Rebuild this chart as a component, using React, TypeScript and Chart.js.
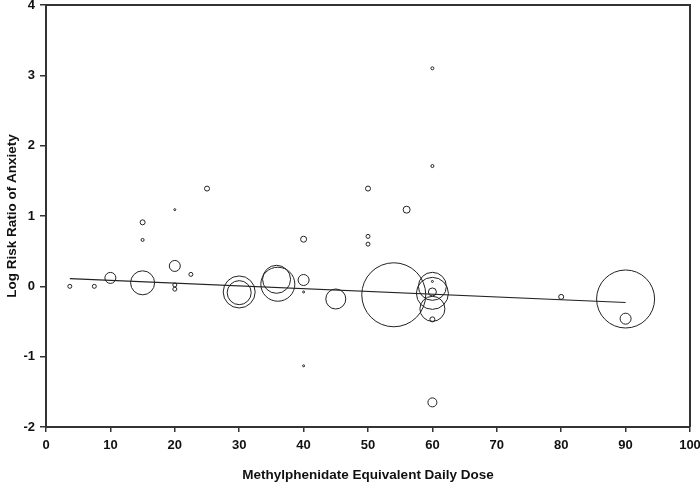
import React, { useEffect, useRef } from "react";
import { Chart, registerables } from "chart.js";

Chart.register(...registerables);

// Study-level data: dose (methylphenidate equivalent), log risk ratio, bubble size (study weight)
const doses = [3.7, 7.5, 10, 15, 15, 15, 20, 20, 20, 20, 22.5, 25, 30, 30, 36, 35.8, 40, 40, 40, 40, 45, 50, 50, 50, 54, 56, 60, 60, 60, 60, 60, 60, 60, 60, 60, 80, 90, 90];
const logRR = [0.0, 0.0, 0.12, 0.05, 0.66, 0.91, 0.29, 0.02, -0.04, 1.09, 0.17, 1.39, -0.08, -0.09, 0.03, 0.1, 0.09, -0.08, 0.67, -1.13, -0.18, 0.71, 0.6, 1.39, -0.12, 1.09, 3.1, 1.71, 0.0, -0.1, -0.32, -0.08, 0.07, -0.47, -1.65, -0.15, -0.18, -0.46];
const weights = [2, 2, 5.5, 12, 1.5, 2.5, 5.5, 2, 2, 1, 2, 2.5, 16, 12, 17, 14, 5.5, 1, 3, 1, 10, 2, 2, 2.5, 32, 3.5, 1.5, 1.5, 14, 16, 12.5, 4, 1, 2.5, 4.5, 2.5, 29, 5.5];

// Meta-regression line endpoints
const regX = [3.7, 90];
const regY = [0.11, -0.23];

const xTicks = [0, 10, 20, 30, 40, 50, 60, 70, 80, 90, 100];
const yTicks = [-2, -1, 0, 1, 2, 3, 4];

const xTitle = "Methylphenidate Equivalent Daily Dose";
const yTitle = "Log Risk Ratio of Anxiety";

const AXIS_COLOR = "#333333";
const FONT = "'Liberation Sans', Arial, sans-serif";

const framePlugin = {
  id: "frame",
  afterDraw(chart: any) {
    const { ctx, chartArea } = chart;
    ctx.save();
    ctx.strokeStyle = AXIS_COLOR;
    ctx.lineWidth = 2;
    ctx.beginPath();
    ctx.moveTo(chartArea.left, chartArea.top);
    ctx.lineTo(chartArea.right, chartArea.top);
    ctx.lineTo(chartArea.right, chartArea.bottom);
    ctx.stroke();
    ctx.restore();
  },
};

export default function App() {
  const ref = useRef<HTMLCanvasElement>(null);

  useEffect(() => {
    if (!ref.current) return;
    const bubbles = doses.map((d, i) => ({ x: d, y: logRR[i], r: weights[i] }));
    const line = regX.map((x, i) => ({ x, y: regY[i] }));
    const chart = new Chart(ref.current, {
      type: "bubble",
      data: {
        datasets: [
          {
            type: "bubble",
            data: bubbles,
            backgroundColor: "rgba(0,0,0,0)",
            borderColor: "#222222",
            borderWidth: 1,
            hoverRadius: 0,
            clip: false,
          } as any,
          {
            type: "line",
            data: line,
            borderColor: "#222222",
            borderWidth: 1.2,
            pointRadius: 0,
            fill: false,
          } as any,
        ],
      },
      options: {
        responsive: false,
        animation: false,
        events: [],
        layout: { autoPadding: false, padding: { left: 0, right: 10, top: 5, bottom: 0 } },
        plugins: {
          legend: { display: false },
          tooltip: { enabled: false },
        },
        scales: {
          x: {
            type: "linear",
            min: 0,
            max: 100,
            afterBuildTicks: (s: any) => {
              s.ticks = xTicks.map((v) => ({ value: v }));
            },
            afterFit: (s: any) => {
              s.height = 57;
              s.paddingLeft = 0;
              s.paddingRight = 0;
            },
            grid: {
              drawOnChartArea: false,
              drawTicks: true,
              tickLength: 5,
              color: AXIS_COLOR,
              lineWidth: 1.5,
            },
            border: { display: true, color: AXIS_COLOR, width: 2 },
            ticks: {
              color: "#111",
              padding: 6,
              maxRotation: 0,
              font: { family: FONT, size: 13, weight: "bold" },
            },
            title: {
              display: true,
              text: xTitle,
              color: "#111",
              padding: { top: 0, bottom: 1 },
              font: { family: FONT, size: 13.5, weight: "bold" },
            },
          },
          y: {
            type: "linear",
            min: -2,
            max: 4,
            afterBuildTicks: (s: any) => {
              s.ticks = yTicks.map((v) => ({ value: v }));
            },
            afterFit: (s: any) => {
              s.width = 46;
              s.paddingTop = 0;
              s.paddingBottom = 0;
            },
            grid: {
              drawOnChartArea: false,
              drawTicks: true,
              tickLength: 6,
              color: AXIS_COLOR,
              lineWidth: 1.5,
            },
            border: { display: true, color: AXIS_COLOR, width: 2 },
            ticks: {
              color: "#111",
              padding: 5,
              font: { family: FONT, size: 13, weight: "bold" },
            },
            title: {
              display: true,
              text: yTitle,
              color: "#111",
              padding: { top: 4, bottom: 0 },
              font: { family: FONT, size: 13.5, weight: "bold" },
            },
          },
        },
      } as any,
      plugins: [framePlugin],
    });
    return () => chart.destroy();
  }, []);

  return (
    <div style={{ position: "absolute", left: 0, top: 0, width: 700, height: 484, background: "#fff" }}>
      <canvas ref={ref} width={700} height={484} style={{ display: "block" }} />
    </div>
  );
}
